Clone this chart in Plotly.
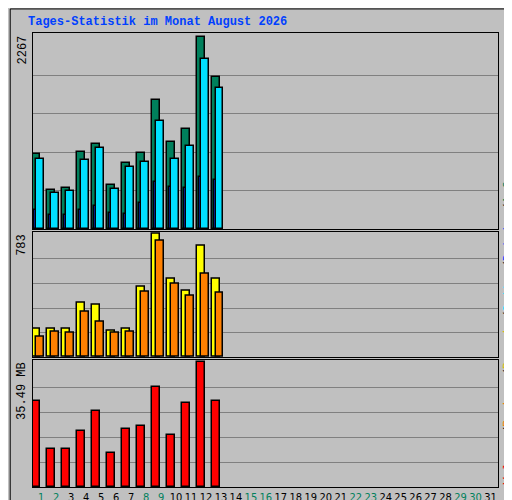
import plotly.graph_objects as go

days = list(range(1, 32))
d13 = list(range(1, 14))
anfragen = [884, 465, 488, 907, 1000, 523, 779, 895, 1523, 1023, 1186, 2267, 1790]
dateien = [825, 430, 453, 814, 953, 477, 732, 790, 1279, 825, 977, 2000, 1662]
seiten = [221, 163, 163, 221, 267, 186, 174, 314, 558, 500, 488, 616, 581]
besuche = [183, 183, 183, 346, 333, 170, 183, 450, 783, 502, 424, 711, 502]
rechner = [130, 163, 157, 287, 228, 157, 163, 418, 744, 470, 392, 529, 411]
volumen = [24.4, 10.8, 10.8, 16.0, 21.8, 9.6, 16.6, 17.5, 28.5, 14.8, 23.9, 35.49, 24.4]
weekend = [1, 2, 8, 9, 15, 16, 22, 23, 29, 30]
max_top, max_mid, max_bot = 2267, 783, 35.49

GREEN = "#00805C"
line = dict(color="black", width=1.5)
fig = go.Figure()

def bar(x, y, color, off, w, ya):
    fig.add_trace(go.Bar(x=x, y=y, offset=off, width=w, marker=dict(color=color, line=line),
                         xaxis="x" if ya == "y" else "x" + ya[1:], yaxis=ya, showlegend=False))

bar(d13, anfragen, GREEN, -0.62, 0.55, "y")
bar(d13, dateien, "#00E0FF", -0.35, 0.52, "y")
bar(d13, seiten, "#0040FF", -0.48, 0.14, "y")
bar(d13, besuche, "#FFFF00", -0.62, 0.55, "y2")
bar(d13, rechner, "#FF8000", -0.35, 0.52, "y2")
bar(d13, volumen, "#FF0000", -0.62, 0.55, "y3")

ticktext = [f"<span style='color:{GREEN}'>{d}</span>" if d in weekend else str(d) for d in days]
xcommon = dict(range=[0.45, 31.5], showgrid=False, zeroline=False, showline=True,
               linecolor="black", mirror=True, fixedrange=True)
fig.update_layout(
    width=512, height=500, margin=dict(l=25, r=22, t=25, b=21, autoexpand=False),
    paper_bgcolor="#C0C0C0", plot_bgcolor="#C0C0C0", barmode="overlay", bargap=0,
    font=dict(family="Liberation Mono", size=11, color="black"),
    xaxis=dict(**xcommon, anchor="y", showticklabels=False, ticks=""),
    xaxis2=dict(**xcommon, anchor="y2", matches="x", showticklabels=False, ticks=""),
    xaxis3=dict(**xcommon, anchor="y3", matches="x", tickvals=days, ticktext=ticktext, ticks="",
                tickangle=0, tickfont=dict(family="DejaVu Sans Condensed, Liberation Sans Narrow", size=11)),
)
def yax(dom, mx):
    return dict(domain=dom, range=[0, mx * 1.02], tickvals=[mx * k / 5 for k in range(1, 5)],
                showticklabels=False, gridcolor="#808080", gridwidth=1, zeroline=False,
                showline=True, linecolor="black", mirror=True, ticks="")
fig.update_layout(yaxis=yax([0.568, 1], max_top), yaxis2=yax([0.286, 0.562], max_mid),
                  yaxis3=yax([0, 0.28], max_bot))
fig.layout.yaxis2.anchor = "x2"
fig.layout.yaxis3.anchor = "x3"

fig.add_annotation(text="<b>Tages-Statistik im Monat August 2026</b>", x=0, y=1.0, xref="paper", yref="paper",
                   xanchor="left", yanchor="bottom", yshift=2, xshift=-7,
                   showarrow=False, font=dict(color="#0040FF", size=12))
for txt, y in [("2267", 1.0), ("783", 0.562), ("35.49 MB", 0.28)]:
    fig.add_annotation(text=txt, x=0, y=y, xref="paper", yref="paper", textangle=-90,
                       xanchor="right", yanchor="top", showarrow=False, xshift=-2, font=dict(size=12))
leg = ("<span style='color:#FF0000'>Volumen</span>/<span style='color:#FF8000'>Rechner</span>/"
       "<span style='color:#E0C000'>Besuche</span>/<span style='color:#00E0FF'>Seiten</span>/"
       "<span style='color:#0040FF'>Dateien</span>/<span style='color:" + GREEN + "'>Anfragen</span>")
fig.add_annotation(text=leg, x=1, y=0, xref="paper", yref="paper", textangle=-90,
                   xanchor="left", yanchor="bottom", showarrow=False, xshift=1, font=dict(size=12))
fig.add_shape(type="rect", xref="paper", yref="paper", x0=-0.049, x1=1.044, y0=-0.044, y1=1.053,
              line=dict(color="black", width=1), layer="below")
fig.write_html("out.html")
